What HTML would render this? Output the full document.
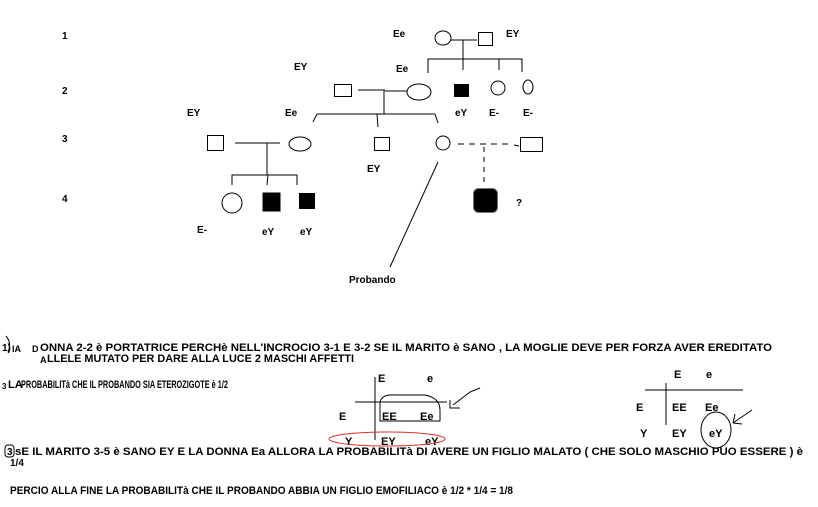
<!DOCTYPE html>
<html><head><meta charset="utf-8"><style>
html,body{margin:0;padding:0;background:#fff;}
svg{display:block;}
text{font-family:"Liberation Sans",sans-serif;fill:#000;}
.b{font-weight:bold;font-size:10px;}
.t{font-size:11px;}
.w{font-weight:bold;}
</style></head><body>
<svg width="818" height="507" viewBox="0 0 818 507" xmlns="http://www.w3.org/2000/svg">
<g stroke="#000" stroke-width="1" fill="none">
<ellipse cx="443" cy="38" rx="8" ry="7"/>
<line x1="451" y1="40" x2="477" y2="40"/>
<rect x="478.5" y="32.5" width="14" height="13"/>
<line x1="463" y1="40" x2="463" y2="59"/>
<polyline points="428,73 428,59 522,59 522,72"/>
<line x1="463" y1="59" x2="463" y2="70"/>
<line x1="499" y1="59" x2="499" y2="70"/>
<rect x="334.5" y="84.5" width="17" height="12"/>
<line x1="358" y1="90" x2="385" y2="90"/>
<line x1="385" y1="91" x2="407" y2="91"/>
<ellipse cx="419" cy="92" rx="12" ry="8"/>
<rect x="454.5" y="84.5" width="14" height="12" fill="#000"/>
<circle cx="498" cy="88" r="7"/>
<ellipse cx="528" cy="87" rx="5" ry="7"/>
<line x1="384" y1="90" x2="384" y2="114"/>
<line x1="317" y1="114" x2="435" y2="114"/>
<line x1="317" y1="114" x2="313" y2="122"/>
<line x1="377" y1="114" x2="378" y2="127"/>
<line x1="435" y1="114" x2="438" y2="123"/>
<rect x="207.5" y="135.5" width="16" height="15"/>
<line x1="235" y1="143" x2="280" y2="143"/>
<ellipse cx="300" cy="144" rx="11" ry="7"/>
<line x1="267" y1="143" x2="267" y2="175"/>
<rect x="374.5" y="137.5" width="15" height="13"/>
<circle cx="443" cy="143" r="7"/>
<line x1="458" y1="144" x2="512" y2="144" stroke-dasharray="6,5"/>
<line x1="514" y1="145" x2="519" y2="146"/>
<rect x="520.5" y="137.5" width="22" height="14"/>
<line x1="484" y1="147" x2="484" y2="186" stroke-dasharray="5,5"/>
<polyline points="232,185 232,175 297,175 297,185"/>
<line x1="268" y1="175" x2="267" y2="185"/>
<circle cx="232" cy="203" r="10"/>
<rect x="263" y="193" width="17" height="18" fill="#000"/>
<rect x="299.5" y="193.5" width="15" height="15" fill="#000"/>
<rect x="473.5" y="188.5" width="24" height="24" rx="5" fill="#000" stroke="#777"/>
<line x1="438" y1="162" x2="390" y2="267"/>
</g>
<g class="b">
<text x="62" y="39">1</text><text x="62" y="94">2</text><text x="62" y="142">3</text><text x="62" y="202">4</text>
<text x="393" y="37">Ee</text><text x="506" y="37">EY</text>
<text x="294" y="70">EY</text><text x="396" y="72">Ee</text>
<text x="455" y="116">eY</text><text x="489" y="116">E-</text><text x="523" y="116">E-</text>
<text x="187" y="116">EY</text><text x="285" y="116">Ee</text>
<text x="367" y="172">EY</text>
<text x="516" y="206">?</text>
<text x="197" y="233">E-</text><text x="262" y="235">eY</text><text x="300" y="235">eY</text>
<text x="349" y="283">Probando</text>
</g>
<g class="t w">
<text x="2" y="351" font-size="10">1)</text>
<text x="12" y="352" font-size="9">IA</text><text x="32" y="352" font-size="9">D</text>
<text x="40" y="351" textLength="732" lengthAdjust="spacingAndGlyphs">ONNA 2-2 è PORTATRICE PERCHè NELL'INCROCIO 3-1 E 3-2 SE IL MARITO è SANO , LA MOGLIE DEVE PER FORZA AVER EREDITATO</text>
<text x="40" y="363" font-size="9">A</text>
<text x="47" y="362" textLength="307" lengthAdjust="spacingAndGlyphs">LLELE MUTATO PER DARE ALLA LUCE 2 MASCHI AFFETTI</text>
<text x="2" y="389" font-size="8">3</text>
<text x="8" y="388" font-size="11">LA</text>
<text x="21" y="388" textLength="207" lengthAdjust="spacingAndGlyphs">PROBABILITà CHE IL PROBANDO SIA ETEROZIGOTE è 1/2</text>
<text x="15" y="455" textLength="788" lengthAdjust="spacingAndGlyphs">sE IL MARITO 3-5 è SANO EY E LA DONNA Ea ALLORA LA PROBABILITà DI AVERE UN FIGLIO MALATO ( CHE SOLO MASCHIO PUO ESSERE ) è</text>
<text x="7" y="455" font-size="10">3</text>
<text x="10" y="466" font-size="10">1/4</text>
<text x="10" y="494" textLength="503" lengthAdjust="spacingAndGlyphs">PERCIO ALLA FINE LA PROBABILITà CHE IL PROBANDO ABBIA UN FIGLIO EMOFILIACO è 1/2 * 1/4 = 1/8</text>
<text x="378" y="382">E</text><text x="427" y="382">e</text>
<text x="339" y="420">E</text>
<text x="382" y="420">EE</text><text x="420" y="420">Ee</text>
<text x="345" y="445">Y</text><text x="381" y="445">EY</text><text x="425" y="445">eY</text>
<text x="674" y="378">E</text><text x="706" y="378">e</text>
<text x="636" y="411">E</text>
<text x="672" y="411">EE</text><text x="705" y="411">Ee</text>
<text x="640" y="437">Y</text><text x="672" y="437">EY</text><text x="709" y="437">eY</text>
</g>
<g stroke="#000" fill="none" stroke-width="1">
<path d="M6 336 Q12 343 8 352"/>
<rect x="5" y="445" width="9" height="12" rx="3"/>
<line x1="375" y1="377" x2="375" y2="440"/>
<line x1="355" y1="402" x2="447" y2="402"/>
<path d="M380 421 L380 402 Q382 394 395 395 L425 395 Q440 398 440 410 L440 421 Z"/>
<polyline points="450,400 450,408 460,408"/>
<path d="M453 405 Q465 396 470 392 L480 388"/>
<line x1="666" y1="383" x2="666" y2="425"/>
<line x1="645" y1="390" x2="743" y2="390"/>
<ellipse cx="716" cy="430" rx="15" ry="18"/>
<path d="M733 423 L752 410 M733 423 L735 414 M733 423 L742 424"/>
</g>
<ellipse cx="387" cy="439" rx="58" ry="7" fill="none" stroke="#e03030" stroke-width="1"/>
</svg>
</body></html>
